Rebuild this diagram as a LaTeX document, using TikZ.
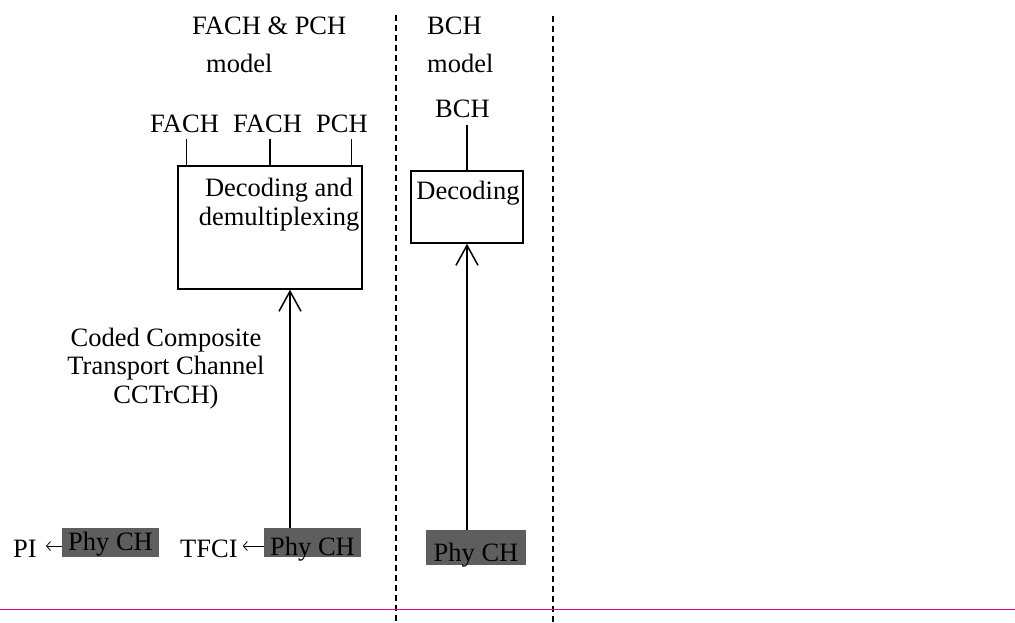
\documentclass[tikz,border=0pt]{standalone}
\usepackage{fontspec}
\setmainfont{Liberation Serif}
\usetikzlibrary{arrows.meta,positioning}
\begin{document}
\begin{tikzpicture}[x=1pt,y=-1pt,
	every node/.style = {font=\fontsize{26.5}{28.5}\selectfont, inner sep=0pt},
	blk/.style = {draw, line width=1.5pt},
	txt/.style = {anchor=base west},
	phy/.style = {fill=black!63, inner sep=0pt, minimum width=97pt, minimum height=29pt},
	sep/.style = {line width=1.6pt, dash pattern=on 6pt off 4pt},
	tick/.style = {line width=1.5pt},
	up/.style = {line width=1.5pt, -{Straight Barb[length=20pt,width=22pt,line width=1.5pt]}},
	larr/.style = {line width=0.8pt, -{Straight Barb[length=4pt,width=9pt,line width=0.8pt]}}]
		\useasboundingbox (0,0) rectangle (1015,623);
		\node[txt] (fpmod) at (192,35) {FACH \& PCH};
		\node[txt] (fpmod2) at (206,73) {model};
		\node[txt] (bmod) at (427,35) {BCH};
		\node[txt] (bmod2) at (427,73) {model};
		\node[blk, minimum width=184pt, minimum height=123pt] (demux) at (270,227.5) {};
		\node[blk, minimum width=112pt, minimum height=72pt] (dec) at (467,207) {};
		\node[txt] (fach1) at (150,133) {FACH};
		\node[txt] (fach2) at (233,133) {FACH};
		\node[txt] (pch) at (316,133) {PCH};
		\node[txt] (bch) at (435,118) {BCH};
		\node[anchor=base, align=center] (demuxtxt) at (279,225) {Decoding and\\demultiplexing};
		\node[anchor=base] (dectxt) at (468,200) {Decoding};
		\node[anchor=base, align=center] (cctrch) at (166,403) {Coded Composite\\Transport Channel\\CCTrCH)};
		\node[phy, text height=18pt, text depth=3pt] (phy1) at (110.5,542.5) {Phy CH};
		\node[phy, text height=25pt, text depth=0pt] (phy2) at (312.5,542.5) {Phy CH};
		\node[phy, minimum width=100pt, minimum height=35pt, text height=28pt, text depth=0pt] (phy3) at (476,547.5) {Phy CH};
		\node[txt] (pi) at (13,557) {PI};
		\node[txt] (tfci) at (180,557) {TFCI};
		\draw[tick] ([xshift=2pt,yshift=-6pt]fach1.south) -- ([xshift=2pt]fach1.south |- demux.north);
		\draw[tick] ([xshift=2.5pt,yshift=-6pt]fach2.south) -- ([xshift=2.5pt]fach2.south |- demux.north);
		\draw[tick] ([xshift=9.5pt,yshift=-6pt]pch.south) -- ([xshift=9.5pt]pch.south |- demux.north);
		\draw[tick] ([yshift=-7pt]bch.south -| dec.north) -- (dec.north);
		\draw[up] ([xshift=20pt]demux.south |- phy2.north) -- ([xshift=20pt]demux.south);
		\draw[up] (dec.south |- phy3.north) -- (dec.south);
		\draw[larr] ([yshift=-3.5pt]phy1.west) -- ([yshift=-3.5pt,xshift=9pt]phy1.west -| pi.east);
		\draw[larr] ([yshift=-3.5pt]phy2.west) -- ([yshift=-3.5pt,xshift=5pt]phy2.west -| tfci.east);
		\draw[sep] (396,15) -- (396,623);
		\draw[sep] (553,16) -- (553,623);
		\draw[magenta, line width=1pt] (0,609) -- (1015,609);
	\end{tikzpicture}
\end{document}
